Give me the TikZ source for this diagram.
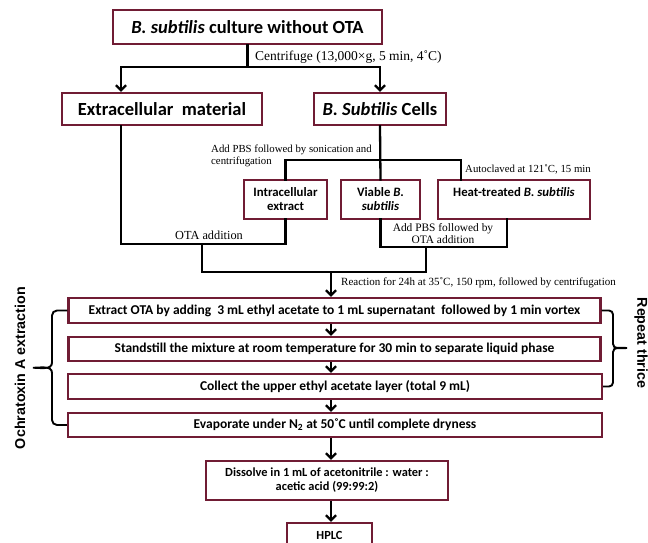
\documentclass[tikz,border=0pt]{standalone}
\usepackage{fontspec}
\setmainfont{Liberation Serif}
\newfontfamily\carl{Carlito}
\newfontfamily\lsans{Liberation Sans}
\usetikzlibrary{arrows.meta,calc}
\definecolor{boxred}{RGB}{112,28,52}
\begin{document}
\begin{tikzpicture}[x=1pt,y=1pt,
  bigbox/.style={draw=boxred, line width=2.4pt, fill=white, inner sep=0pt, align=center,
     font=\carl\bfseries\fontsize{18.5}{21}\selectfont},
  smallbox/.style={draw=boxred, line width=1.2pt, fill=white, inner sep=0pt, align=center,
     minimum height=39pt, font=\carl\bfseries\fontsize{12.8}{14}\selectfont},
  procbox/.style={draw=boxred, line width=2.4pt, fill=white, inner sep=0pt, align=center,
     minimum height=24pt, font=\carl\bfseries\fontsize{13.5}{15}\selectfont},
  lab/.style={inner sep=0pt, font=\fontsize{10.8}{12}\selectfont},
  side/.style={inner sep=0pt, font=\lsans\bfseries\fontsize{14.3}{16}\selectfont},
  conn/.style={line width=2.3pt, line cap=rect},
  arr/.style={line width=2.3pt, -{Straight Barb[length=5pt,width=10pt]}},
  brc/.style={line width=1.9pt}
]
\useasboundingbox (0,0) rectangle (648,-543);
% boxes
\node[bigbox, minimum width=269pt, minimum height=34pt] (top) at (247.5,-27) {\textit{B. subtilis} culture without OTA};
\node[bigbox, minimum width=200pt, minimum height=32pt] (extra) at (162,-109) {Extracellular\ \ material};
\node[bigbox, minimum width=132pt, minimum height=32pt] (cells) at (380,-109) {\textit{B. Subtilis} Cells};
\node[smallbox, minimum width=83pt] (intra) at (285.5,-199.5) {Intracellular\\extract};
\node[smallbox, minimum width=79pt] (viable) at (380.5,-199.5) {Viable \textit{B.}\\\textit{subtilis}};
\node[smallbox, minimum width=152pt] (heat) at (514,-199.5) {Heat-treated \textit{B. subtilis}\\\mbox{}};
\node[procbox, minimum width=532pt, minimum height=25pt] (p1) at (334.5,-310.5) {Extract OTA by adding\ \ 3 mL ethyl acetate to 1 mL supernatant\ \ followed by 1 min vortex};
\node[procbox, minimum width=532pt] (p2) at (334.5,-349) {Standstill the mixture at room temperature for 30 min to separate liquid phase};
\node[procbox, minimum width=534pt, minimum height=25pt] (p3) at (335,-386.5) {Collect the upper ethyl acetate layer (total 9 mL)};
\node[procbox, minimum width=534pt] (p4) at (335,-425) {Evaporate under N\textsubscript{2} at 50˚C until complete dryness};
\node[procbox, minimum width=242pt, minimum height=39pt, font=\carl\bfseries\fontsize{12.4}{14}\selectfont] (dissolve) at (327,-480.5) {Dissolve in 1 mL of acetonitrile : water :\\acetic acid (99:99:2)};
\node[procbox, minimum width=85pt, font=\carl\bfseries\fontsize{12.4}{14}\selectfont] (hplc) at (329.5,-535) {HPLC};
% helper coordinates
\coordinate (xl) at (121,0);
\coordinate (ysplit) at (0,-67);
\coordinate (split) at (top.south |- ysplit);
\coordinate (yj) at (0,-244);
\coordinate (xm) at (202,0);
\coordinate (yj2) at (0,-247);
\coordinate (xr) at (426,0);
\coordinate (xh) at (507,0);
\coordinate (ybot) at (0,-272);
\coordinate (ybr) at (0,-160);
\coordinate (xhh) at (461,0);
\coordinate (ax) at (331,0);
% connectors
\draw[conn] (top.south) -- (split);
\draw[arr] (split) -| (xl |- extra.north);
\draw[arr] (split) -| (cells.north);
\draw[conn] (cells.south) -- (viable.north);
\draw[conn] (intra.north) |- (xhh |- ybr) -- (xhh |- heat.north);
\draw[conn] (xl |- extra.south) |- (intra.south |- yj) -- (intra.south);
\draw[conn] (viable.south) |- (xh |- yj2) -- (xh |- heat.south);
\draw[conn] (xm |- yj) |- (xr |- ybot) -- (xr |- yj2);
\draw[arr] (ax |- ybot) -- (ax |- p1.north);
\draw[arr] (p1.south -| ax) -- (p2.north -| ax);
\draw[arr] (p2.south -| ax) -- (p3.north -| ax);
\draw[arr] (p3.south -| ax) -- (p4.north -| ax);
\draw[arr] (p4.south -| ax) -- (dissolve.north -| ax);
\draw[arr] (dissolve.south -| ax) -- (hplc.north -| ax);
% braces
\draw[brc] (p1.west) -- (57,-310.5) to[out=180,in=90] (52,-315.5) -- (52,-362.5)
   to[out=-90,in=0] (33,-367.75) to[out=0,in=90] (52,-373) -- (52,-420)
   to[out=-90,in=180] (57,-425) -- (p4.west);
\draw[brc] (p1.east) -- (609,-310.5) to[out=0,in=90] (613,-314.5) -- (613,-344)
   to[out=-90,in=180] (627,-348) to[out=180,in=90] (613,-352) -- (613,-382.5)
   to[out=-90,in=0] (609,-386.5) -- (p3.east);
% labels
\node[lab, anchor=west, font=\fontsize{13.5}{15}\selectfont] (lcent) at (255,-57) {Centrifuge (13,000×g, 5 min, 4˚C)};
\node[lab, anchor=west, align=left] (lpbs) at (211,-156) {Add PBS followed by sonication and\\centrifugation};
\node[lab, anchor=west] (lauto) at (465,-169) {Autoclaved at 121˚C, 15 min};
\node[lab, font=\fontsize{12.3}{14}\selectfont] (lota) at (209,-235) {OTA addition};
\node[lab, align=center, font=\fontsize{11.4}{11.5}\selectfont] (lpbs2) at (443,-233.5) {Add PBS followed by\\OTA addition};
\node[lab, anchor=west, font=\fontsize{11}{12}\selectfont] (lreact) at (341,-283) {Reaction for 24h at 35˚C, 150 rpm, followed by centrifugation};
\node[side, rotate=90] (lochra) at (20,-368) {Ochratoxin A extraction};
\node[side, rotate=-90] (lrep) at (641,-343) {Repeat thrice};
\end{tikzpicture}
\end{document}
